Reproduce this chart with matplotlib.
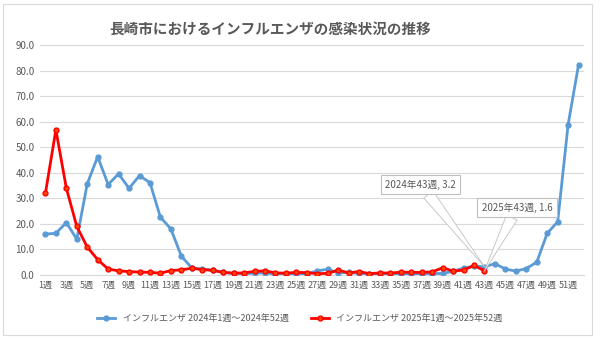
import matplotlib.pyplot as plt
from matplotlib.patches import Rectangle

plt.rcParams['font.family'] = ['Noto Sans CJK JP', 'DejaVu Sans']

weeks = list(range(1, 53))
week_labels = [f"{w}週" for w in weeks]

flu_2024 = [16.0, 16.3, 20.5, 14.0, 35.7, 46.3, 35.4, 39.6, 33.9, 38.9,
            36.1, 22.6, 18.0, 7.4, 2.7, 2.3, 1.8, 1.0, 0.6, 0.5,
            0.7, 0.8, 0.4, 0.3, 0.5, 0.4, 1.6, 2.2, 0.8, 1.0,
            0.6, 0.5, 0.4, 0.5, 0.4, 0.5, 0.4, 0.5, 0.6, 1.4,
            2.7, 3.4, 3.2, 4.4, 2.3, 1.5, 2.5, 5.0, 16.3, 20.8,
            58.9, 82.3]
flu_2025 = [32.0, 56.8, 34.0, 19.0, 10.9, 6.0, 2.3, 1.6, 1.3, 1.1,
            1.0, 0.7, 1.7, 2.0, 2.6, 2.1, 1.8, 1.0, 0.7, 0.8,
            1.4, 1.6, 0.8, 0.7, 1.0, 0.9, 0.5, 0.6, 1.9, 0.8,
            1.3, 0.5, 0.8, 0.7, 1.1, 1.0, 1.0, 1.2, 2.8, 1.5,
            1.9, 3.7, 1.6]

label_2024 = "インフルエンザ 2024年1週～2024年52週"
label_2025 = "インフルエンザ 2025年1週～2025年52週"
title = "長崎市におけるインフルエンザの感染状況の推移"

gray = "#595959"
fig = plt.figure(figsize=(6.0, 3.39), dpi=100)
fig.patches.append(Rectangle((0.005, 0.012), 0.982, 0.975, transform=fig.transFigure,
                             fill=False, edgecolor="#d9d9d9", linewidth=0.8))
ax = fig.add_axes([0.067, 0.189, 0.906, 0.678])

ax.plot(weeks, flu_2024, color="#5B9BD5", linewidth=2, marker="o", markersize=3.5,
        label=label_2024, zorder=3)
ax.plot(weeks[:len(flu_2025)], flu_2025, color="#FF0000", linewidth=2, marker="o",
        markersize=3.5, markerfacecolor="#FF4500", label=label_2025, zorder=4)

ax.set_xlim(0.5, 52.5)
ax.set_ylim(0, 90)
ax.set_yticks(range(0, 91, 10))
ax.set_yticklabels([f"{v:.1f}" for v in range(0, 91, 10)], fontsize=7, color=gray)
ax.set_xticks(weeks[::2])
ax.set_xticklabels(week_labels[::2], fontsize=6.5, color=gray)
ax.tick_params(length=0, pad=4)
ax.grid(axis="y", color="#d9d9d9", linewidth=0.8)
ax.set_axisbelow(True)
for s in ["top", "right", "left"]:
    ax.spines[s].set_visible(False)
ax.spines["bottom"].set_color("#d9d9d9")

box = dict(boxstyle="square,pad=0.45", facecolor="white", edgecolor="#bfbfbf", linewidth=0.8)
arrow = dict(arrowstyle="wedge,tail_width=1.2,shrink_factor=0.5", facecolor="white",
             edgecolor="#c8c8c8", linewidth=0.7, shrinkA=0, shrinkB=0)
ax.annotate(f"2024年43週, {flu_2024[42]}", xy=(43, flu_2024[42]), xytext=(36.9, 35.4),
            fontsize=7, color=gray, ha="center", va="center", bbox=box, arrowprops=arrow,
            zorder=5)
ax.annotate(f"2025年43週, {flu_2025[42]}", xy=(43, flu_2025[42]), xytext=(46.1, 26.4),
            fontsize=7, color=gray, ha="center", va="center", bbox=box, arrowprops=arrow,
            zorder=5)

fig.text(0.45, 0.915, title, fontsize=10.5, fontweight="bold", color=gray, ha="center", va="center")
fig.legend(loc="center", bbox_to_anchor=(0.5, 0.06), ncol=2, frameon=False,
           fontsize=6.5, labelcolor=gray, handlelength=2, columnspacing=2.5)

fig.savefig("out.png", dpi=100)
